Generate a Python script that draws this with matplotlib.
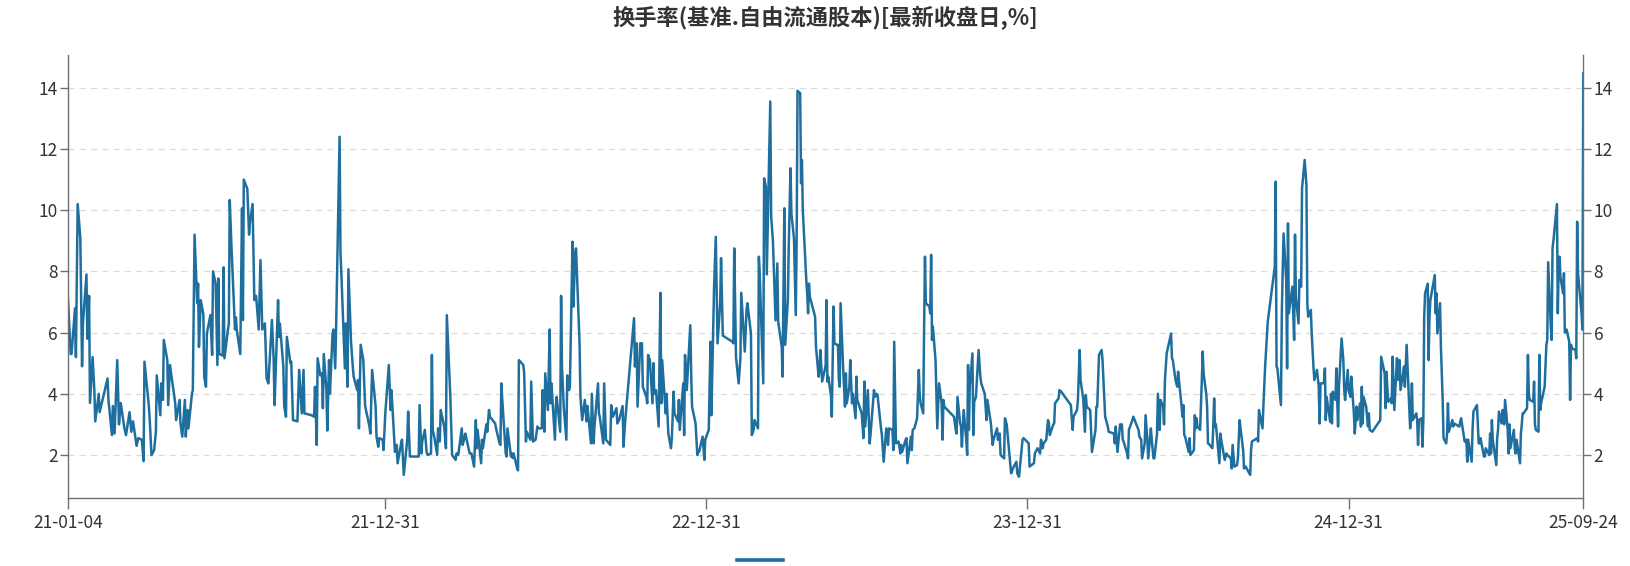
import matplotlib
matplotlib.use("Agg")
import matplotlib.pyplot as plt
import matplotlib.dates as mdates
from matplotlib.lines import Line2D
import numpy as np
import pandas as pd

plt.rcParams["font.family"] = ["Noto Sans CJK SC", "DejaVu Sans"]

START, END = "2021-01-04", "2025-09-24"

# exchange closures (weekdays), used to place readings on trading days
closures = [
    ("2021-01-01", "2021-01-01"), ("2021-02-11", "2021-02-17"), ("2021-04-05", "2021-04-05"),
    ("2021-05-03", "2021-05-05"), ("2021-06-14", "2021-06-14"), ("2021-09-20", "2021-09-21"),
    ("2021-10-01", "2021-10-07"), ("2022-01-03", "2022-01-03"), ("2022-01-31", "2022-02-04"),
    ("2022-04-04", "2022-04-05"), ("2022-05-02", "2022-05-04"), ("2022-06-03", "2022-06-03"),
    ("2022-09-12", "2022-09-12"), ("2022-10-03", "2022-10-07"), ("2023-01-02", "2023-01-02"),
    ("2023-01-23", "2023-01-27"), ("2023-04-05", "2023-04-05"), ("2023-05-01", "2023-05-03"),
    ("2023-06-22", "2023-06-23"), ("2023-09-29", "2023-10-06"), ("2024-01-01", "2024-01-01"),
    ("2024-02-09", "2024-02-16"), ("2024-04-04", "2024-04-05"), ("2024-05-01", "2024-05-03"),
    ("2024-06-10", "2024-06-10"), ("2024-09-16", "2024-09-17"), ("2024-10-01", "2024-10-07"),
    ("2025-01-01", "2025-01-01"), ("2025-01-28", "2025-02-04"), ("2025-04-04", "2025-04-04"),
    ("2025-05-01", "2025-05-05"), ("2025-06-02", "2025-06-02"),
]

# turnover readings (%), one list per month, in time order
t2021 = [
    [7.06, 6.5, 5.3, 5.3, 6.8, 5.2, 10.2, 9.1, 4.9, 6.3, 7.9, 5.8, 7.2, 3.7],
    [5.2, 4.1, 3.1, 4.0, 3.4, 4.5, 3.8, 2.65, 3.6, 2.7],
    [5.1, 3.0, 3.7, 2.9, 2.65, 3.4, 2.76, 3.1, 2.3, 2.55, 2.5, 1.8],
    [5.05, 3.6, 3.14, 2.0, 2.16, 2.76, 4.6, 3.3, 4.34, 3.8, 5.76, 5.1, 3.63, 4.94],
    [3.69, 3.14, 3.8, 3.03, 2.6, 3.8, 2.6, 3.47, 2.87, 4.0, 4.12, 9.2, 6.96],
    [7.6, 5.53, 7.06, 6.6, 4.56, 4.23, 5.97, 6.57, 5.27, 8.0, 7.6, 4.94, 7.77, 5.3, 5.25, 8.13],
    [5.16, 6.1, 6.3, 10.33, 8.8, 6.1, 6.5, 6.1, 5.3, 10.06, 6.41, 11.0, 10.7, 9.2, 9.6],
    [10.2, 7.06, 7.2, 6.1, 8.37, 6.1, 6.3, 4.5, 4.34, 6.41, 5.1, 3.63, 7.06],
    [5.86, 6.3, 4.89, 3.6, 3.25, 5.86, 5.0, 5.05, 3.14, 3.1, 4.78, 3.36, 4.78, 3.36],
    [3.3, 3.25, 4.23, 2.33, 5.16, 4.6, 4.67, 3.53, 5.3, 4.12, 2.8, 5.1, 4.0],
    [5.97, 6.1, 4.83, 6.1, 12.4, 8.6, 7.94, 4.83, 6.3, 4.23, 8.07, 5.7, 4.89, 4.56, 4.12, 4.45],
    [2.87, 5.6, 5.1, 3.63, 3.47, 2.93, 2.7, 4.78, 3.58, 2.6, 2.27, 2.55, 2.5, 2.16, 3.36],
]
t2022 = [
    [4.94, 3.47, 4.12, 2.1, 2.33, 1.73, 2.38, 2.5, 1.35, 2.5, 3.42, 1.95],
    [1.95, 3.63, 2.05, 2.44, 2.82, 2.1, 2.0, 2.05, 5.27, 2.82, 2.55, 2.0],
    [2.87, 2.44, 3.47, 2.93, 2.22, 6.57, 3.9, 2.0, 1.84, 2.05, 2.0, 2.87, 2.33, 2.55],
    [2.7, 2.05, 2.05, 1.62, 3.14, 2.22, 2.82, 1.73, 2.5, 2.22, 3.0, 2.76, 3.47, 3.25],
    [3.03, 2.87, 2.38, 2.33, 4.34, 3.85, 2.05, 1.95, 2.87, 1.95, 2.05, 1.9, 2.05, 1.56, 1.5],
    [5.1, 4.94, 4.67, 2.44, 2.76, 2.5, 4.4, 2.44, 2.5, 2.93, 2.87, 2.87, 4.12, 2.76],
    [4.67, 3.47, 6.1, 3.69, 4.34, 2.5, 3.58, 3.9, 2.76, 7.2, 4.89, 3.58, 2.5, 4.6, 4.12, 4.23],
    [8.97, 6.85, 8.6, 8.75, 5.65, 3.9, 3.14, 3.8, 3.1, 3.6, 2.38, 4.0, 2.38, 2.93, 4.34, 3.36],
    [3.25, 2.38, 4.34, 2.5, 2.33, 3.63, 3.25, 3.53, 3.03, 3.14, 3.6, 2.27, 3.14],
    [6.47, 4.89, 5.65, 3.58, 5.65, 5.65, 4.23, 3.9, 3.69, 5.27, 5.1, 3.69],
    [5.0, 4.0, 4.12, 2.93, 7.3, 3.69, 5.1, 3.36, 4.0, 2.7, 2.22, 2.55, 4.07, 3.36, 3.1, 3.8],
    [2.82, 4.34, 2.65, 5.27, 4.12, 6.24, 4.67, 3.58, 3.03, 2.0, 2.1, 2.1, 2.6, 1.84, 2.5],
]
t2023 = [
    [2.82, 5.7, 3.3, 7.4, 9.13, 5.65, 6.96, 8.43, 5.9, 5.7, 5.65],
    [8.75, 5.2, 4.34, 5.16, 7.3, 5.38, 6.74, 6.96, 5.97, 2.65, 2.82, 3.14, 2.87],
    [8.48, 7.9, 4.34, 11.04, 10.77, 7.9, 13.55, 9.8, 9.0, 6.4, 8.26, 6.36, 5.54, 4.56, 10.06, 5.6],
    [7.06, 8.8, 11.37, 9.9, 9.07, 6.57, 9.0, 13.9, 13.82, 10.88, 11.64, 10.0, 7.7, 7.28, 6.63, 7.6, 7.17],
    [6.52, 5.54, 4.56, 4.78, 5.43, 4.4, 4.78, 4.94, 7.06, 4.4, 4.56, 3.96, 3.25, 6.85, 5.65, 5.6, 5.6, 4.45],
    [4.23, 6.96, 4.78, 3.58, 4.67, 3.69, 4.23, 5.1, 3.69, 4.0, 3.2, 4.56, 3.8, 3.36, 2.55, 4.4, 2.93],
    [4.12, 2.38, 2.65, 4.12, 3.9, 4.0, 3.96, 2.87, 2.65, 1.78, 2.87, 2.33, 2.87, 2.82],
    [2.16, 5.7, 2.38, 2.44, 2.05, 2.33, 2.1, 2.5, 2.55, 1.73, 2.6, 2.16, 2.82, 2.87, 3.2, 4.78, 4.0],
    [3.69, 3.36, 6.1, 8.48, 6.96, 6.85, 6.63, 8.54, 5.76, 6.2, 5.1, 4.0, 2.87, 4.34, 3.69, 2.5, 3.8, 3.58],
    [3.25, 3.03, 2.82, 2.7, 3.9, 3.03, 2.93, 2.27, 3.47, 2.5, 2.0, 4.94, 2.82, 4.23, 5.32, 2.65],
    [3.74, 3.9, 5.43, 4.56, 4.34, 4.0, 3.14, 3.8, 3.03, 2.33, 2.5, 2.87, 2.5, 2.7],
    [2.0, 1.89, 3.2, 3.0, 1.73, 1.4, 1.56, 1.78, 1.4, 1.29, 2.5, 2.55, 2.5],
]
t2024 = [
    [2.38, 1.62, 1.67, 1.73, 2.05, 2.16, 2.22, 2.05, 2.5, 2.22, 2.38, 2.5, 3.14, 3.03, 2.65, 3.0, 3.03],
    [3.69, 3.85, 4.12, 4.07, 3.63, 2.82, 3.25, 3.47, 3.8, 5.43],
    [4.45, 3.85, 2.76, 3.96, 3.58, 3.47, 2.82, 2.1, 2.82, 3.58, 3.58, 5.27, 5.43, 5.1, 3.9, 3.25],
    [2.93, 2.76, 2.7, 2.38, 2.93, 2.1, 3.0, 3.0, 2.5, 2.44, 2.05, 1.89, 2.82, 3.14, 3.25],
    [2.82, 2.6, 2.5, 1.89, 2.38, 3.3, 2.5, 1.89, 2.87, 2.5, 1.89, 1.89, 2.7, 4.0, 2.82, 3.8],
    [3.58, 3.0, 4.45, 4.89, 5.32, 5.97, 5.16, 5.1, 4.45, 4.34, 4.23, 4.72, 3.58, 3.25, 3.63, 2.65, 2.6],
    [2.22, 2.1, 2.55, 2.0, 2.16, 3.3, 2.87, 3.2, 2.93, 2.82, 4.45, 5.38, 4.67, 4.0, 3.58, 2.38, 2.33, 2.22, 2.93, 3.85],
    [2.93, 3.0, 1.73, 2.7, 2.5, 1.84, 1.95, 2.05, 2.0, 1.89, 1.56, 2.33, 1.62, 1.67, 1.89, 3.14, 2.87],
    [2.16, 1.56, 1.62, 1.56, 1.35, 2.16, 2.44, 2.55, 2.44, 3.47, 2.87, 3.58, 4.89, 6.36],
    [8.15, 10.93, 4.89, 4.83, 3.63, 6.63, 8.04, 9.24, 7.72, 4.83, 9.57, 6.63, 7.5, 6.63, 5.76, 9.2],
    [7.17, 6.3, 7.72, 7.5, 10.71, 11.64, 10.82, 6.96, 6.52, 6.74, 5.97, 4.89, 4.45, 4.78, 4.23, 3.03, 4.34],
    [4.34, 4.4, 4.83, 3.14, 3.9, 3.09, 4.0, 3.03, 4.07, 3.8, 4.83, 3.8, 2.93, 4.23, 5.81, 5.1, 4.12, 3.8, 4.78, 4.12],
]
t2025 = [
    [3.9, 4.56, 3.36, 2.7, 3.58, 3.14, 3.69, 2.93, 4.23, 3.03, 3.9, 3.58, 2.93, 3.36, 2.82, 2.76],
    [3.14, 5.21, 4.67, 3.53, 4.72, 3.74, 3.85, 3.69, 5.21, 3.47, 5.16, 4.45, 5.1, 4.12],
    [4.67, 4.89, 4.23, 4.89, 5.6, 3.58, 2.87, 3.25, 4.34, 3.14, 3.36, 3.14, 2.33, 3.14, 3.2, 2.27, 3.14, 6.52, 7.28, 7.6],
    [5.1, 6.52, 7.06, 7.88, 6.63, 7.28, 5.97, 6.96, 5.54, 3.8, 2.55, 2.38, 2.7, 3.69, 2.76, 3.14, 2.93, 3.03],
    [2.93, 3.09, 3.2, 2.44, 2.44, 2.5, 1.78, 2.5, 1.78, 2.82, 3.42, 3.47, 3.63, 2.38, 2.38, 2.55],
    [1.95, 1.95, 2.22, 2.0, 2.7, 2.05, 3.14, 2.5, 1.67, 2.55, 2.82, 3.42, 3.03, 3.47, 3.0, 3.8, 2.82],
    [2.05, 3.0, 2.22, 2.82, 2.22, 2.05, 2.5, 1.73, 2.7, 3.0, 3.36, 3.36, 3.53, 5.27, 4.0, 3.8, 3.74, 4.4, 3.0],
    [2.82, 2.76, 5.27, 3.47, 3.69, 4.23, 4.94, 5.6, 5.76, 8.3, 6.2, 5.76, 8.75, 9.0, 10.2, 6.63, 8.26, 8.48, 7.82],
    [7.28, 7.94, 6.0, 6.1, 5.7, 3.8, 5.6, 5.49, 5.43, 5.16, 9.62, 7.94, 6.63, 6.1, 14.47],
]

x_ticks = ["2021-01-04", "2021-12-31", "2022-12-31", "2023-12-31", "2024-12-31", "2025-09-24"]
y_ticks = [2, 4, 6, 8, 10, 12, 14]
title = "换手率(基准.自由流通股本)[最新收盘日,%]"

holidays = pd.DatetimeIndex(np.concatenate(
    [pd.date_range(a, b).values for a, b in closures]))


def year_series(year, months):
    dates, vals = [], []
    for m, readings in enumerate(months, start=1):
        first = max(pd.Timestamp(f"{year}-{m:02d}-01"), pd.Timestamp(START))
        last = min(first + pd.offsets.MonthEnd(0), pd.Timestamp(END))
        days = pd.bdate_range(first, last, freq="C", holidays=holidays)
        idx = np.linspace(0, len(days) - 1, len(readings)).round().astype(int)
        dates.extend(days[idx])
        vals.extend(readings)
    return dates, vals


dates, turnover = [], []
for yr, months in [(2021, t2021), (2022, t2022), (2023, t2023), (2024, t2024), (2025, t2025)]:
    d, v = year_series(yr, months)
    dates += d
    turnover += v
series = pd.Series(turnover, index=pd.DatetimeIndex(dates))

line_color = "#1f6f9e"
axis_color = "#6e7079"
text_color = "#333333"

fig = plt.figure(figsize=(16.31, 5.66), dpi=100, facecolor="white")
ax = fig.add_axes([68 / 1631, 1 - 498.3 / 566, (1583.3 - 68) / 1631, (498.3 - 55) / 566])

ax.plot(series.index, series.values, color=line_color, lw=1.8, solid_joinstyle="round")

ax.set_xlim(pd.Timestamp(START), pd.Timestamp(END))
ax.set_ylim(0.585, 15.07)
ax.set_yticks(y_ticks)
ax.set_xticks(pd.to_datetime(x_ticks))
ax.xaxis.set_major_formatter(mdates.DateFormatter("%y-%m-%d"))

ax.grid(axis="y", color="#dcdcdc", lw=0.9, ls=(0, (5, 4)))
ax.set_axisbelow(True)

for side in ["left", "right", "bottom"]:
    ax.spines[side].set_color(axis_color)
    ax.spines[side].set_linewidth(1.0)
ax.spines["top"].set_visible(False)

ax.tick_params(axis="y", which="both", left=True, right=True, labelleft=True, labelright=True,
               length=5.5, width=1.0, color=axis_color, labelcolor=text_color, labelsize=12.5, pad=2)
ax.tick_params(axis="x", length=8, width=1.0, color=axis_color, labelcolor=text_color,
               labelsize=12.5, pad=3)

fig.text((68 + 1583.3) / 2 / 1631, 1 - 18 / 566, title, ha="center", va="center",
         fontsize=16, fontweight="bold", color=text_color)

# legend key at the bottom (its label is not legible in the source)
fig.legend(handles=[Line2D([], [], color=line_color, lw=2.6)], labels=[""],
           loc="center", bbox_to_anchor=(766 / 1631, 1 - 561 / 566), frameon=False,
           handlelength=3.0, fontsize=11)

fig.savefig("out.png", dpi=100, facecolor="white")
